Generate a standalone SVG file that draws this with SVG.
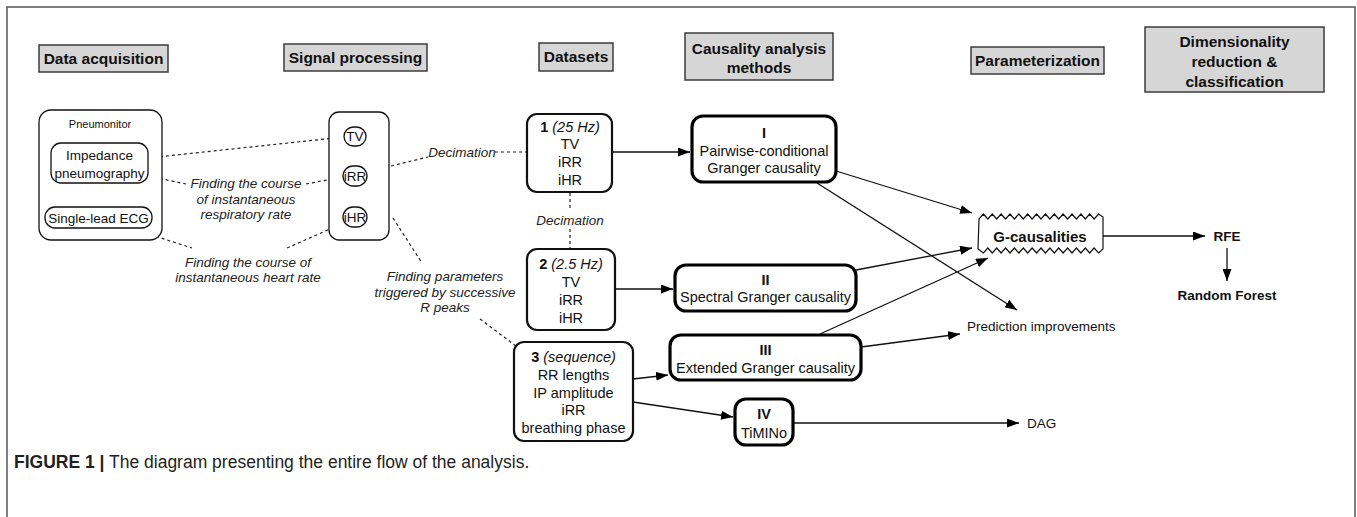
<svg xmlns="http://www.w3.org/2000/svg" width="1357" height="517" viewBox="0 0 1357 517">
<defs>
<marker id="ah" markerUnits="userSpaceOnUse" markerWidth="13" markerHeight="9" refX="12" refY="4.5" orient="auto"><path d="M0,0 L12,4.5 L0,9 z" fill="#000"/></marker>
<style>
.hdr rect{fill:#d6d6d6;stroke:#3c3c3c;stroke-width:1.5}
.ht{font-family:"Liberation Sans",Arial,sans-serif;font-weight:bold;font-size:15.5px;text-anchor:middle;fill:#111}
.t{font-family:"Liberation Sans",Arial,sans-serif;font-size:14.5px;text-anchor:middle;fill:#111}
.s{font-size:13.5px}
.it{font-family:"Liberation Sans",Arial,sans-serif;font-style:italic;font-size:13.5px;text-anchor:middle;fill:#222}
.b{font-weight:bold}
.i{font-style:italic}
.thin{fill:#fff;stroke:#111;stroke-width:1.3}
.ds{fill:#fff;stroke:#111;stroke-width:2.2}
.mb{fill:#fff;stroke:#000;stroke-width:3.2}
.dash{stroke:#222;stroke-width:1.2;stroke-dasharray:3 3;fill:none}
.arr{stroke:#111;stroke-width:1.3;fill:none;marker-end:url(#ah)}
</style>
</defs>
<rect width="1357" height="517" fill="#fff"/>
<path d="M7,517 V7 H1355 V517" fill="none" stroke="#555" stroke-width="1.5"/>

<g id="headers" class="hdr">
<g id="h-data"><rect x="39" y="45" width="129" height="27"/><text class="ht" x="103.5" y="64">Data acquisition</text></g>
<g id="h-signal"><rect x="284" y="44" width="143" height="27"/><text class="ht" x="355.5" y="63">Signal processing</text></g>
<g id="h-datasets"><rect x="539" y="43" width="74" height="28"/><text class="ht" x="576" y="62">Datasets</text></g>
<g id="h-causality"><rect x="685" y="33" width="148" height="47"/><text class="ht" x="759" y="54">Causality analysis</text><text class="ht" x="759" y="73">methods</text></g>
<g id="h-param"><rect x="971" y="47" width="133" height="27"/><text class="ht" x="1037.5" y="66">Parameterization</text></g>
<g id="h-dim"><rect x="1145" y="27" width="179" height="65"/><text class="ht" x="1234.5" y="47">Dimensionality</text><text class="ht" x="1234.5" y="67">reduction &amp;</text><text class="ht" x="1234.5" y="87">classification</text></g>
</g>

<g id="connectors">
<path class="dash" d="M148,158 L344,137"/>
<path class="dash" d="M148,176 L186,184"/>
<path class="dash" d="M306,184 L343,177"/>
<path class="dash" d="M133,229 L192,248"/>
<path class="dash" d="M287,248 L346,222"/>
<path class="dash" d="M391,166 L428,157"/>
<path class="dash" d="M495,152 L527,152"/>
<path class="dash" d="M393,218 L422,263"/>
<path class="dash" d="M480,319 L516,346"/>
<path class="dash" d="M570,193 V210"/>
<path class="dash" d="M570,229 V249"/>
<path class="arr" d="M612,152 L690,152"/>
<path class="arr" d="M615,289 L673,289"/>
<path class="arr" d="M633,379 L668,375"/>
<path class="arr" d="M633,402 L733,417"/>
<path class="arr" d="M793,423 L1019,423"/>
<path class="arr" d="M836,171 L972,213"/>
<path class="arr" d="M817,183 L1017,310"/>
<path class="arr" d="M856,270 L972,248"/>
<path class="arr" d="M820,334 L988,258"/>
<path class="arr" d="M861,347 L960,334"/>
<path class="arr" d="M1103,236 L1205,236"/>
<path class="arr" d="M1227,248 L1227,281"/>
</g>

<g id="labels">
<text class="it" x="462" y="157">Decimation</text>
<text class="it" x="570" y="225">Decimation</text>
<text class="it" x="246" y="188">Finding the course</text>
<text class="it" x="246" y="204">of instantaneous</text>
<text class="it" x="246" y="219">respiratory rate</text>
<text class="it" x="248" y="267">Finding the course of</text>
<text class="it" x="248" y="282">instantaneous heart rate</text>
<text class="it" x="445" y="281">Finding parameters</text>
<text class="it" x="445" y="297">triggered by successive</text>
<text class="it" x="445" y="312">R peaks</text>
</g>

<g id="pneumonitor">
<rect class="thin" x="39" y="110" width="123" height="130" rx="12"/>
<text class="t" x="100" y="128" style="font-size:11px">Pneumonitor</text>
</g>
<g id="impedance">
<rect class="thin" x="51" y="143" width="97" height="40" rx="10"/>
<text class="t s" x="99.5" y="160">Impedance</text>
<text class="t s" x="99.5" y="178">pneumography</text>
</g>
<g id="ecg">
<rect class="thin" x="45" y="207" width="107" height="21" rx="10"/>
<text class="t s" x="98.5" y="222.5">Single-lead ECG</text>
</g>
<g id="signal">
<rect class="thin" x="329" y="112" width="60" height="128" rx="10"/>
</g>
<g id="tv"><rect class="thin" x="344" y="127" width="22" height="19" rx="9.5"/><text class="t s" x="355" y="141">TV</text></g>
<g id="irr"><rect class="thin" x="343" y="166" width="24" height="20" rx="10"/><text class="t s" x="355" y="181">iRR</text></g>
<g id="ihr"><rect class="thin" x="343" y="207" width="24" height="20" rx="10"/><text class="t s" x="355" y="222">iHR</text></g>

<g id="ds1">
<rect class="ds" x="527" y="114" width="85" height="78" rx="10"/>
<text class="t" x="570" y="132"><tspan class="b">1</tspan> <tspan class="i">(25 Hz)</tspan></text>
<text class="t" x="570" y="149">TV</text>
<text class="t" x="570" y="167">iRR</text>
<text class="t" x="570" y="185">iHR</text>
</g>
<g id="ds2">
<rect class="ds" x="527" y="249" width="88" height="81" rx="10"/>
<text class="t" x="571" y="269"><tspan class="b">2</tspan> <tspan class="i">(2.5 Hz)</tspan></text>
<text class="t" x="571" y="287">TV</text>
<text class="t" x="571" y="305">iRR</text>
<text class="t" x="571" y="323">iHR</text>
</g>
<g id="ds3">
<rect class="ds" x="514" y="342" width="119" height="99" rx="10"/>
<text class="t" x="573.5" y="362"><tspan class="b">3</tspan> <tspan class="i">(sequence)</tspan></text>
<text class="t" x="573.5" y="380">RR lengths</text>
<text class="t" x="573.5" y="397.5">IP amplitude</text>
<text class="t" x="573.5" y="415">iRR</text>
<text class="t" x="573.5" y="433">breathing phase</text>
</g>

<g id="m1">
<rect class="mb" x="692" y="116" width="144" height="66" rx="11"/>
<text class="t b" x="764" y="138">I</text>
<text class="t" x="764" y="156">Pairwise-conditional</text>
<text class="t" x="764" y="173">Granger causality</text>
</g>
<g id="m2">
<rect class="mb" x="675" y="265" width="181" height="46" rx="11"/>
<text class="t b" x="765.5" y="285">II</text>
<text class="t" x="765.5" y="302">Spectral Granger causality</text>
</g>
<g id="m3">
<rect class="mb" x="670" y="335" width="191" height="45" rx="11"/>
<text class="t b" x="765.5" y="355">III</text>
<text class="t" x="765.5" y="373">Extended Granger causality</text>
</g>
<g id="m4">
<rect class="mb" x="735" y="399" width="58" height="46" rx="11"/>
<text class="t b" x="764" y="419">IV</text>
<text class="t" x="764" y="438">TiMINo</text>
</g>

<g id="gcaus">
<path d="M979,219 L983.4,214 L987.9,219 L992.3,214 L996.7,219 L1001.1,214 L1005.6,219 L1010,214 L1014.4,219 L1018.9,214 L1023.3,219 L1027.7,214 L1032.1,219 L1036.6,214 L1041,219 L1045.4,214 L1049.9,219 L1054.3,214 L1058.7,219 L1063.1,214 L1067.6,219 L1072,214 L1076.4,219 L1080.9,214 L1085.3,219 L1089.7,214 L1094.1,219 L1098.6,214 L1103,217 L1103,249 L1098.6,253 L1094.1,248 L1089.7,253 L1085.3,248 L1080.9,253 L1076.4,248 L1072,253 L1067.6,248 L1063.1,253 L1058.7,248 L1054.3,253 L1049.9,248 L1045.4,253 L1041,248 L1036.6,253 L1032.1,248 L1027.7,253 L1023.3,248 L1018.9,253 L1014.4,248 L1010,253 L1005.6,248 L1001.1,253 L996.7,248 L992.3,253 L987.9,248 L983.4,253 L978,249 Z" fill="#fff" stroke="#111" stroke-width="1.2"/>
<text class="ht" x="1040" y="241.5" style="font-size:15px">G-causalities</text>
</g>
<g id="rfe"><text class="ht" x="1227" y="241" style="font-size:13.5px">RFE</text></g>
<g id="rf"><text class="ht" x="1227" y="300" style="font-size:13.5px">Random Forest</text></g>
<g id="pred"><text class="t s" x="967" y="331" style="text-anchor:start">Prediction improvements</text></g>
<g id="dag"><text class="t s" x="1027" y="428" style="text-anchor:start">DAG</text></g>

<g id="caption">
<text x="14" y="468" style="font-family:'Liberation Sans',Arial,sans-serif;font-size:17.5px;fill:#231f20"><tspan font-weight="bold">FIGURE 1 |</tspan> The diagram presenting the entire flow of the analysis.</text>
</g>
</svg>
